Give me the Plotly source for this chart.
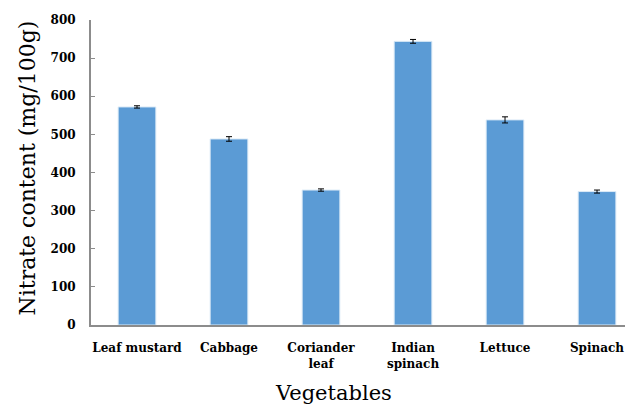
import plotly.graph_objects as go

categories = ["Leaf mustard", "Cabbage", "Coriander<br>leaf", "Indian<br>spinach", "Lettuce", "Spinach"]
values = [572, 488, 354, 744, 538, 350]
errors = [3, 6, 3, 5, 8, 4]
y_ticks = [0, 100, 200, 300, 400, 500, 600, 700, 800]

PLOT_L, PLOT_W = 91, 534

fig = go.Figure()
fig.add_trace(go.Bar(
    x=categories, y=values,
    marker=dict(color="#5B9BD5", line=dict(color="#DDEBF7", width=1)),
    width=0.41,
    error_y=dict(type="data", array=errors, color="black", thickness=1, width=3),
))

fig.update_layout(
    width=625, height=405,
    margin=dict(l=PLOT_L, r=0, t=20, b=80),
    paper_bgcolor="white", plot_bgcolor="white",
    showlegend=False,
    font=dict(family="DejaVu Serif", color="black"),
    xaxis=dict(
        range=[-0.5, 5.304],
        showline=True, linecolor="#8C8C8C", linewidth=2,
        ticks="", showgrid=False,
        tickfont=dict(family="DejaVu Serif", size=12, color="black", weight="bold"),
        ticklabelstandoff=11,
    ),
    yaxis=dict(
        range=[0, 800], tickvals=y_ticks,
        showline=True, linecolor="#8C8C8C", linewidth=2,
        ticks="inside", ticklen=4, tickcolor="#8C8C8C",
        showgrid=False, zeroline=False,
        tickfont=dict(family="DejaVu Serif", size=12, color="black", weight="bold"),
        ticklabelstandoff=11,
    ),
    annotations=[
        dict(
            text="Vegetables", xref="paper", yref="paper",
            x=(333 - PLOT_L) / PLOT_W, y=0, yshift=-68, xanchor="center", yanchor="middle",
            showarrow=False, font=dict(family="DejaVu Serif", size=21, color="black"),
        ),
        dict(
            text="Nitrate content (mg/100g)", xref="paper", yref="paper",
            x=(27 - PLOT_L) / PLOT_W, y=0.5, yshift=4, xanchor="center", yanchor="middle",
            textangle=-90, showarrow=False,
            font=dict(family="DejaVu Serif", size=22, color="black"),
        ),
    ],
)

fig.write_html("out.html")
